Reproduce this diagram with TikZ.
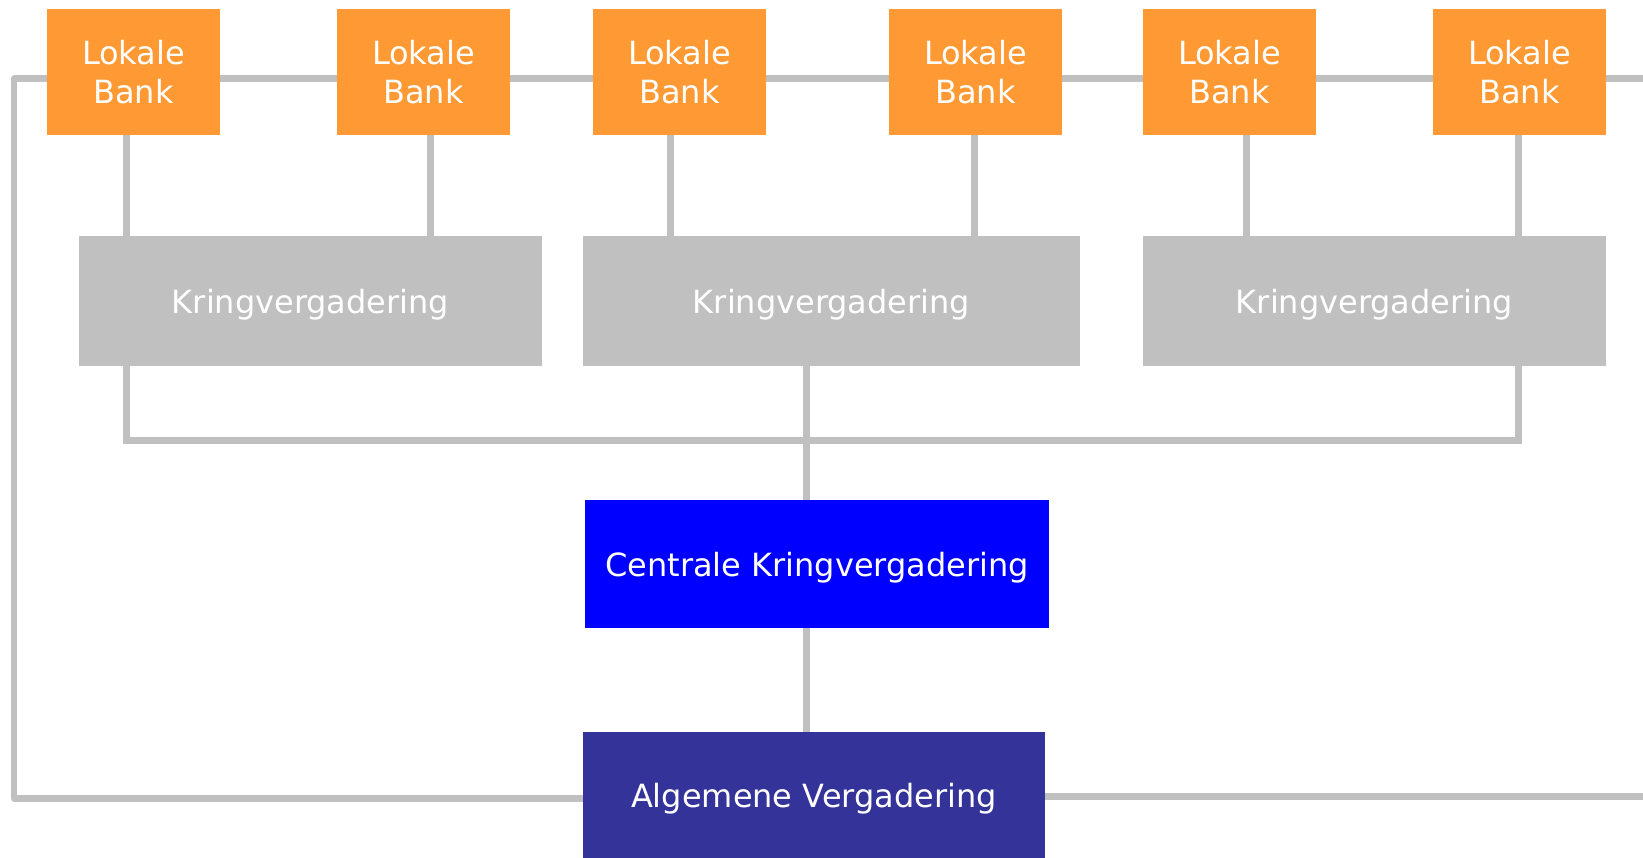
\documentclass[tikz,border=0pt]{standalone}
\usepackage{fontspec}
\setmainfont{DejaVu Sans}
\usetikzlibrary{calc,backgrounds}
\definecolor{myorange}{RGB}{255,153,51}
\definecolor{mygray}{RGB}{192,192,192}
\definecolor{myblue}{RGB}{0,0,255}
\definecolor{mynavy}{RGB}{51,51,153}

\begin{document}
\begin{tikzpicture}[x=0.02cm,y=-0.02cm,
        box/.style={inner sep=0pt,text=white,align=center,font=\fontsize{18.2}{22.5}\selectfont},
        oneline/.style={box,text height=13.8pt,text depth=0pt},
        bank/.style={box,fill=myorange,minimum width=3.46cm,minimum height=2.52cm},
        kring/.style={oneline,fill=mygray,minimum height=2.6cm},
        link/.style={draw=mygray,line width=0.14cm}]
        \useasboundingbox (0,0) rectangle (1643,858);
        \foreach \n/\x in {1/133.5,2/423.5,3/679.5,4/975.5,5/1229.5,6/1519.5}
            \node[bank] (lb\n) at (\x,72) {Lokale\\Bank};
        \node[kring,minimum width=9.26cm] (kv1) at (310.5,301) {Kringvergadering};
        \node[kring,minimum width=9.94cm] (kv2) at (831.5,301) {Kringvergadering};
        \node[kring,minimum width=9.26cm] (kv3) at (1374.5,301) {Kringvergadering};
        \node[oneline,fill=myblue,minimum width=9.28cm,minimum height=2.56cm] (ckv) at (817,564) {Centrale Kringvergadering};
        \node[oneline,fill=mynavy,minimum width=9.24cm,minimum height=2.52cm] (av) at (814,795) {Algemene Vergadering};
        \coordinate (tl) at (14,79);
        \coordinate (tr) at (1643,79);
        \coordinate (br) at (1643,796);
        \begin{pgfonlayer}{background}
            \foreach \n/\dx/\k in {1/-7.5/1,2/6.5/1,3/-9.5/2,4/-1.5/2,5/16.5/3,6/-1.5/3}
                \draw[link] ($(lb\n.south)+(\dx,0)$) coordinate (t) -- (t |- kv\k.north);
            \draw[link] ($(kv1.south)+(-184.5,0)$) -- ++(0,74) -| ($(kv3.south)+(143.5,0)$);
            \draw[link] ($(kv2.south)+(-25.5,0)$) coordinate (m) -- (m |- ckv.north);
            \draw[link] (m |- ckv.south) -- (m |- av.north);
            \draw[link,line join=round] ($(av.west)+(0,3)$) -| (tl) -- (tr);
            \draw[link] ($(av.east)+(0,1)$) -- (br);
        \end{pgfonlayer}
    \end{tikzpicture}
\end{document}
